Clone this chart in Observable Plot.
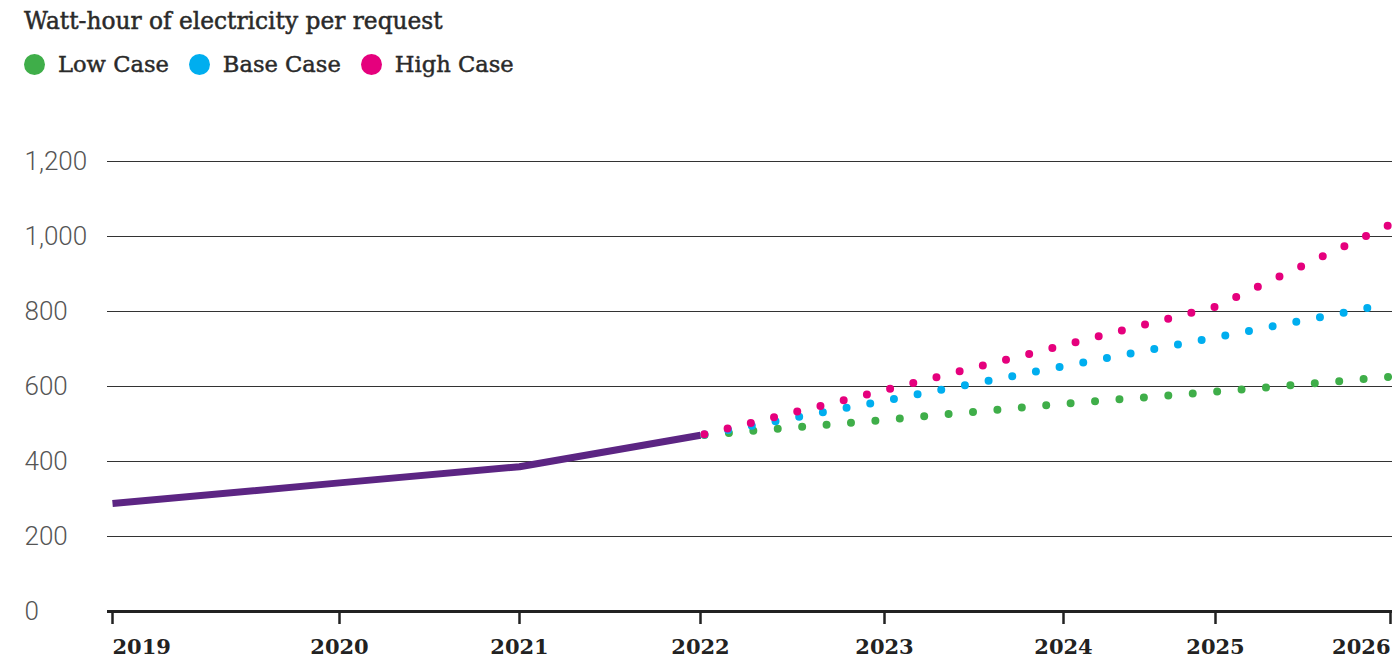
<!DOCTYPE html>
<html><head><meta charset="utf-8">
<script src="https://cdn.jsdelivr.net/npm/d3@7"></script>
<script src="https://cdn.jsdelivr.net/npm/@observablehq/plot@0.6"></script>
<style>
body{margin:0;background:#fff;width:1392px;height:662px;overflow:hidden;position:relative;}
#title{position:absolute;left:24px;top:7px;font-family:"DejaVu Serif";font-size:23.3px;color:#2a2a2a;white-space:nowrap;-webkit-text-stroke:0.5px #2a2a2a;}
#legend{position:absolute;left:24px;top:51px;display:flex;align-items:center;font-family:"DejaVu Serif";font-size:22.6px;color:#2a2a2a;white-space:nowrap;-webkit-text-stroke:0.45px #2a2a2a;}
.item{display:flex;align-items:center;margin-right:20px;}
.sw{width:21px;height:21px;border-radius:50%;margin-right:13px;}
#chart{position:absolute;left:0;top:90px;}
</style></head><body>
<div id="title">Watt-hour of electricity per request</div>
<div id="legend"></div>
<div id="chart"></div>
<script>
// historical series
const historyYears = [2019, 2020, 2021, 2022];
const historyValues = [288, 343, 386, 470];
// projections
const projectionYears = [2022, 2023, 2024, 2025, 2026];
const lowCase = [470, 511, 554, 586, 626];
const baseCase = [470, 562, 654, 731, 821];
const highCase = [470, 590, 710, 813, 1032];
const seriesNames = ["Low Case", "Base Case", "High Case"];
// ticks
const yTicks = [0, 200, 400, 600, 800, 1000, 1200];
const xTicks = [2019, 2020, 2021, 2022, 2023, 2024, 2025, 2026];

const colors = {"Low Case": "#3fae49", "Base Case": "#00aeef", "High Case": "#e5007d"};
const purple = "#5c2583";
const spacing = {"Low Case": 24.5, "Base Case": 24.1, "High Case": 23.9};
const seriesValues = {"Low Case": lowCase, "Base Case": baseCase, "High Case": highCase};

// the reference axis spaces its years unevenly: piecewise year -> axis position
const yearPos = d3.scaleLinear(xTicks, [0, 227, 407, 588, 772, 951, 1103, 1278]);

// legend
const legend = document.getElementById("legend");
for (const name of seriesNames) {
  const item = document.createElement("div");
  item.className = "item";
  const sw = document.createElement("span");
  sw.className = "sw";
  sw.style.background = colors[name];
  const label = document.createElement("span");
  label.textContent = name;
  item.appendChild(sw); item.appendChild(label);
  legend.appendChild(item);
}

const history = historyYears.map((x, i) => ({x, y: historyValues[i]}));
const projMarks = seriesNames.map(name => Plot.line(
  projectionYears.map((x, i) => ({x, y: seriesValues[name][i]})),
  {x: "x", y: "y", stroke: colors[name], strokeWidth: 8, strokeLinecap: "round",
   strokeDasharray: `0 ${spacing[name]}`, strokeDashoffset: -4}
));

const fmt = d3.format(",");
const xLabel = (subset, anchor) => Plot.text(subset, {x: d => d, text: d => String(d), frameAnchor: "bottom",
  lineAnchor: "top", dy: 28, textAnchor: anchor, fontSize: 21, fontFamily: "DejaVu Serif", fontWeight: "bold", fill: "#222"});

const chart = Plot.plot({
  width: 1392, height: 572,
  marginLeft: 107, marginRight: 0, marginTop: 71, marginBottom: 51,
  x: {transform: yearPos, domain: [yearPos(2019), yearPos(2026)], range: [112, 1390], axis: null},
  y: {domain: [0, 1200], axis: null},
  style: {background: "transparent", overflow: "visible"},
  marks: [
    Plot.ruleY(yTicks.filter(d => d > 0), {stroke: "#333", strokeWidth: 1}),
    Plot.text(yTicks, {y: d => d, text: d => fmt(d), frameAnchor: "left", textAnchor: "start", dx: -83,
      fontSize: 26, fontFamily: "Roboto", fontWeight: 300, fill: "#555"}),
    Plot.ruleY([0], {stroke: "#222", strokeWidth: 3}),
    Plot.ruleX(xTicks, {x: d => d, y1: 0, y2: 0, insetBottom: -13, stroke: "#222", strokeWidth: 2.5}),
    xLabel(xTicks.slice(0, 1), "start"),
    xLabel(xTicks.slice(1, -1), "middle"),
    xLabel(xTicks.slice(-1), "end"),
    Plot.line(history, {x: "x", y: "y", stroke: purple, strokeWidth: 7, strokeLinecap: "butt"}),
    ...projMarks
  ]
});
document.getElementById("chart").appendChild(chart);
</script>
</body></html>
